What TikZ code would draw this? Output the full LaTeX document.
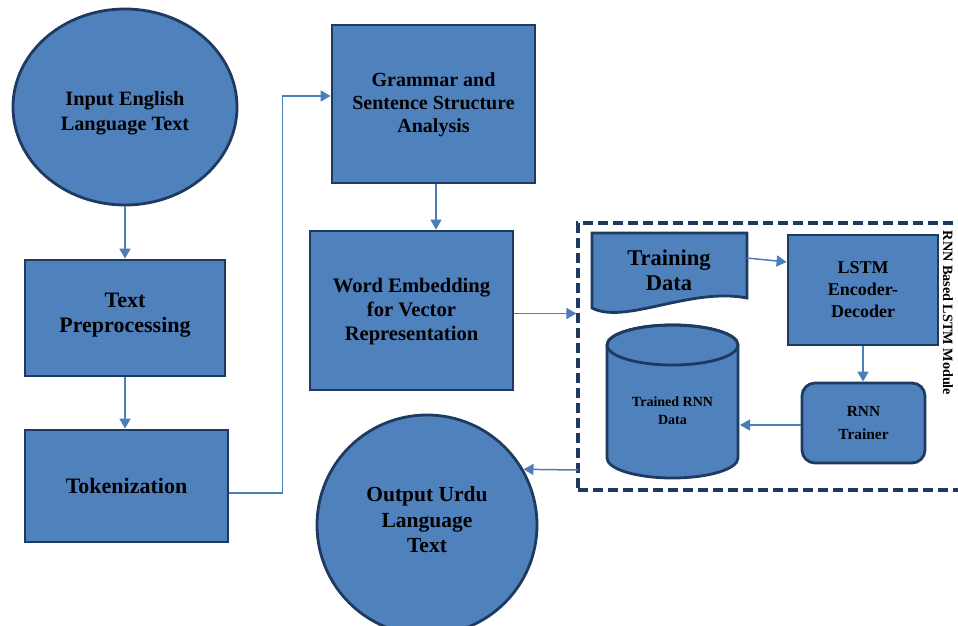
\documentclass[tikz,border=0pt]{standalone}
\usepackage{fontspec}
\setmainfont{Liberation Serif}
\usetikzlibrary{shapes.geometric,arrows.meta}
\definecolor{boxfill}{HTML}{4F81BD}
\definecolor{boxline}{HTML}{1F3A60}
\definecolor{arrowc}{HTML}{4A7EBB}
\tikzset{
  blk/.style={draw=boxline, line width=2.8pt, fill=boxfill, inner sep=0pt},
  rectbox/.style={blk, rectangle},
  txt/.style={align=center, font=\bfseries, text=black, inner sep=0pt},
  arr/.style={draw=arrowc, line width=1.5pt, -{Triangle[length=10pt,width=11pt]}},
  modbox/.style={draw=boxline, line width=3.2pt, dash pattern=on 10pt off 5pt, rectangle, inner sep=0pt}
}
\newcommand{\fs}[2]{\fontsize{#1}{#2}\selectfont}
\begin{document}
\begin{tikzpicture}[x=1pt,y=1pt]
\useasboundingbox (0,0) rectangle (958,625);

% left column
\node[blk, ellipse, minimum width=224pt, minimum height=196pt] (in) at (125,518) {};
\node[txt, font=\bfseries\fs{20.3}{25}] (intext) at (125,512) {Input English\\Language Text};
\node[rectbox, minimum width=200pt, minimum height=116pt] (tp) at (125,307) {};
\node[txt, font=\bfseries\fs{22}{25}] (tptext) at (125,310) {Text\\Preprocessing};
\node[rectbox, minimum width=203pt, minimum height=112pt] (tok) at (126.5,139) {};
\node[txt, font=\bfseries\fs{22}{25}] (toktext) at (126.5,139) {Tokenization};

% middle column
\node[rectbox, minimum width=203pt, minimum height=158pt] (gram) at (433.5,521) {};
\node[txt, font=\bfseries\fs{20}{23}] (gramtext) at (433.5,520) {Grammar and\\Sentence Structure\\Analysis};
\node[rectbox, minimum width=203pt, minimum height=159pt] (we) at (411.5,314.5) {};
\node[txt, font=\bfseries\fs{20.6}{24}] (wetext) at (411.5,313) {Word Embedding\\for Vector\\Representation};
\node[blk, circle, minimum size=220pt] (out) at (427,100) {};
\node[txt, font=\bfseries\fs{21.5}{25.5}] (outtext) at (427,105) {Output Urdu\\Language\\Text};

% module
\node[modbox, minimum width=384pt, minimum height=267pt] (mod) at (770,268.5) {};
\node[txt, font=\bfseries\fs{14.2}{16}, rotate=-90] (modlabel) at (948,312) {RNN Based LSTM Module};

% training data (document shape)
\path[blk] (592,392) -- (747,392) -- (747,327)
  .. controls (690,338) and (625,300) .. (592,317) -- cycle;
\node[txt, font=\bfseries\fs{22.5}{25}] (td) at (669,355) {Training\\Data};
\coordinate (tdout) at (747,367);

\node[rectbox, minimum width=150pt, minimum height=110pt] (lstm) at (863,335) {};
\node[txt, font=\bfseries\fs{18}{22}] (lstmtext) at (863,335) {LSTM\\Encoder-\\Decoder};
\node[rectbox, rounded corners=13pt, minimum width=123pt, minimum height=80pt] (trainer) at (863.5,202) {};
\node[txt, font=\bfseries\fs{15.4}{23}] (trainertext) at (863.5,202) {RNN\\Trainer};

% cylinder
\path[blk] (607,280) -- (607,167) arc (180:360:65.5pt and 20pt) -- (738,280) arc (0:180:65.5pt and 20pt) -- cycle;
\draw[draw=boxline, line width=2.8pt] (672.5,280) ellipse (65.5pt and 20pt);
\coordinate (cylr) at (740,200);
\node[txt, font=\bfseries\fs{14}{18}] (cyltext) at (672.5,214) {Trained RNN\\Data};

% connectors
\draw[arr] (in.south) -- (tp.north);
\draw[arr] (tp.south) -- (tp.south |- tok.north);
\draw[arr] ([yshift=-7pt]tok.east) -- ++(53,0) |- ([yshift=8pt]gram.west);
\draw[arr] ([xshift=2.5pt]gram.south) -- ([xshift=2.5pt]gram.south |- we.north);
\draw[arr] ([yshift=-3pt]we.east) -- ([yshift=-3pt]we.east -| mod.west);
\draw[arr] (tdout) -- ([yshift=28pt]lstm.west);
\draw[arr] (lstm.south) -- (lstm.south |- trainer.north);
\draw[arr] (trainer.west |- cylr) -- (cylr);
\coordinate (modout) at (578,155);
\draw[arr] (modout) -- (out.30);
\end{tikzpicture}
\end{document}
